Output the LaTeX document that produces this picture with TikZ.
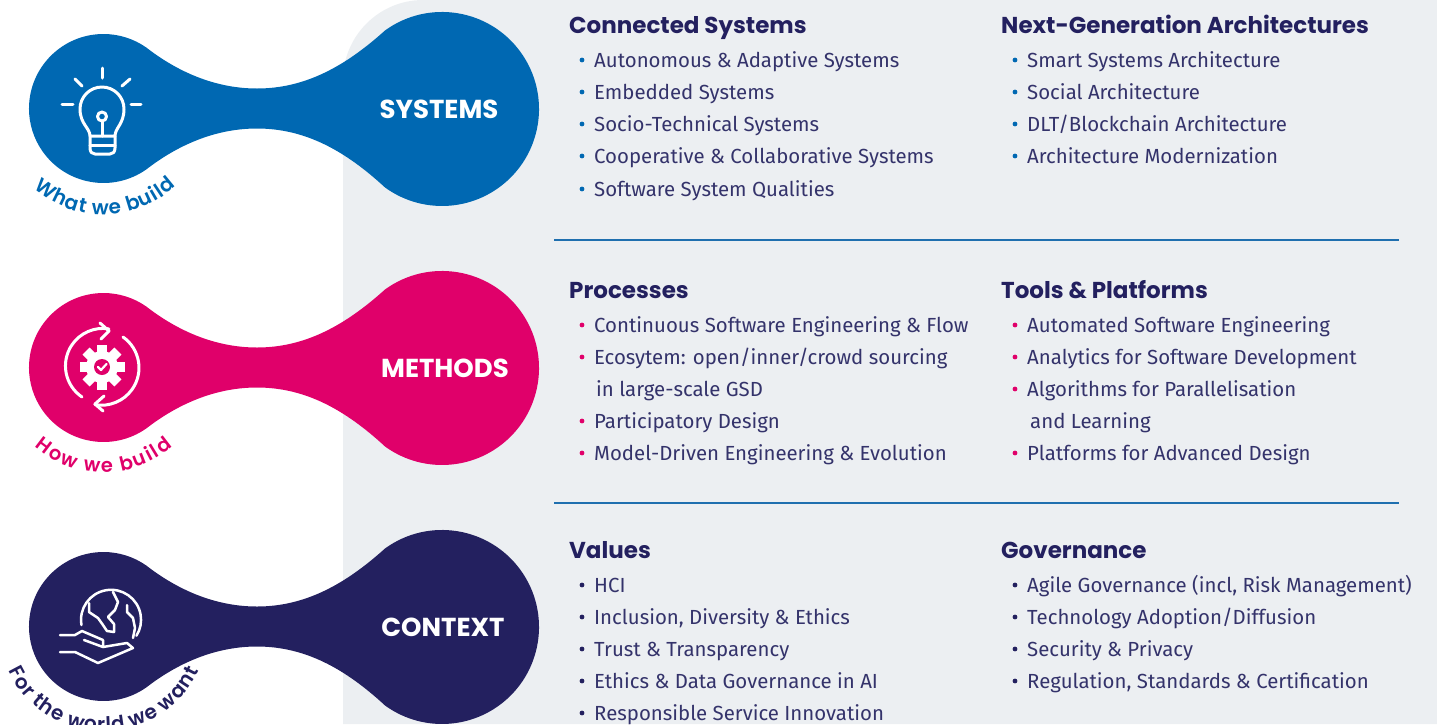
\documentclass[tikz,border=0pt]{standalone}
\usepackage{fontspec}
\usetikzlibrary{decorations.text}
\setmainfont{Fira Sans}
\newfontfamily\hdfont{Poppins}
\newfontfamily\curvefont{Poppins SemiBold}
\definecolor{navy}{HTML}{23205F}
\definecolor{txt}{HTML}{34336B}
\definecolor{sysblue}{HTML}{0068B2}
\definecolor{magent}{HTML}{E0006A}
\definecolor{greybg}{HTML}{ECEFF2}
\definecolor{rulec}{HTML}{1F6FAF}
\tikzset{
 x=1pt,y=-1pt,
 head/.style={anchor=base west,inner sep=0pt,font=\hdfont\bfseries\fontsize{23}{23}\selectfont,text=navy},
 item/.style={anchor=base west,inner sep=0pt,font=\fontsize{20.4}{20.4}\selectfont,text=txt},
 band/.style={anchor=center,inner sep=0pt,font=\hdfont\bfseries\fontsize{26}{26}\selectfont,text=white},
 icon/.style={draw=white,line width=3pt,line cap=round,line join=round},
 sep/.style={draw=rulec,line width=1.2pt},
}
\newcommand{\blobshape}[2]{%
 \fill[#2] (29,#1) arc[start angle=180,end angle=305,radius=74.5]
  .. controls (172,{#1-41}) and (210,{#1-20}) .. (257,{#1-20})
  .. controls (305,{#1-20}) and (345,{#1-42}) .. (385,{#1-78})
  arc[start angle=234,end angle=486,radius=97]
  .. controls (345,{#1+42}) and (305,{#1+20}) .. (257,{#1+20})
  .. controls (210,{#1+20}) and (172,{#1+41}) .. (146.2,{#1+61})
  arc[start angle=55,end angle=180,radius=74.5] -- cycle;
}
\begin{document}
\begin{tikzpicture}
\useasboundingbox (0,0) rectangle (1437,724);
\fill[greybg] (343,724) -- (343,80) .. controls (343,36) and (379,0) .. (423,0) -- (1437,0) -- (1437,724) -- cycle;
\blobshape{108.5}{sysblue}
\blobshape{367.5}{magent}
\blobshape{626.5}{navy}
\node[band] (sys) at (439,109) {SYSTEMS};
\node[band] (met) at (445,368) {METHODS};
\node[band] (con) at (443,627) {CONTEXT};
\draw[sep] (554,240) -- (1399,240);
\draw[sep] (554,503) -- (1399,503);
\foreach \x/\y/\t [count=\i] in {
 569/33/Connected Systems, 1001/33/Next-Generation Architectures,
 569/298/Processes, 1001/298/Tools \& Platforms,
 569/558/Values, 1001/558/Governance}
 {\node[head] (h\i) at (\x,\y) {\t};}
\foreach \col/\x/\y/\t [count=\i] in {
 sysblue/594/67/Autonomous \& Adaptive Systems,
 sysblue/594/99/Embedded Systems,
 sysblue/594/131/Socio-Technical Systems,
 sysblue/594/163/Cooperative \& Collaborative Systems,
 sysblue/594/196/Software System Qualities,
 sysblue/1027/67/Smart Systems Architecture,
 sysblue/1027/99/Social Architecture,
 sysblue/1027/131/{DLT/Blockchain Architecture},
 sysblue/1027/163/Architecture Modernization,
 magent/594/332/Continuous Software Engineering \& Flow,
 magent/594/364/{Ecosytem: open/inner/crowd sourcing},
 magent/594/428/Participatory Design,
 magent/594/460/Model-Driven Engineering \& Evolution,
 magent/1027/332/Automated Software Engineering,
 magent/1027/364/Analytics for Software Development,
 magent/1027/396/Algorithms for Parallelisation,
 magent/1027/460/Platforms for Advanced Design,
 navy/594/592/HCI,
 navy/594/624/{Inclusion, Diversity \& Ethics},
 navy/594/656/Trust \& Transparency,
 navy/594/688/Ethics \& Data Governance in AI,
 navy/594/720/Responsible Service Innovation,
 navy/1027/592/{Agile Governance (incl, Risk Management)},
 navy/1027/624/{Technology Adoption/Diffusion},
 navy/1027/656/Security \& Privacy,
 navy/1027/688/{Regulation, Standards \& Certification}}
 {\node[item] (it\i) at (\x,\y) {\t};
  \fill[\col] ({\x-12},{\y-7}) circle[radius=2.4];}
\node[item] (c1) at (596,396) {in large-scale GSD};
\node[item] (c2) at (1030,428) {and Learning};
% bulb
\begin{scope}[icon]
 \draw (102,68)--(102,78); \draw (75,79)--(82,86); \draw (130,79)--(122,86);
 \draw (62,104)--(73,104); \draw (131,104)--(141,104);
 \draw (90,136) .. controls (90,128) and (80,124) .. (80,109) arc[start angle=180,end angle=360,radius=22] .. controls (124,124) and (115,128) .. (115,136) -- cycle;
 \draw (90,136) -- (90,148) .. controls (90,152) and (92,154) .. (95,154) -- (110,154) .. controls (113,154) and (115,152) .. (115,148) -- (115,136);
 \draw (90,145) -- (115,145);
 \draw (102,136) -- (102,121);
 \draw (102,116.5) circle[radius=4.5];
\end{scope}
% gear
\foreach \a in {0,45,...,315} \fill[white,rotate around={\a:(102,367)}] (97,344.5) rectangle (107,356);
\fill[white] (102,367) circle[radius=16];
\fill[magent] (102,367) circle[radius=8];
\draw[white,line width=2.2pt,line cap=round,line join=round] (98,367) -- (101,370) -- (106.5,364);
\begin{scope}[icon]
 \draw (82,397) arc[start angle=124,end angle=279,radius=37.5];
 \draw (100,323) -- (109,331) -- (101,339);
 \draw (123,337) arc[start angle=305,end angle=460,radius=37.5];
 \draw (104,396) -- (95,404) -- (103,411);
\end{scope}
% globe
\begin{scope}[icon,line width=2.5pt]
 \draw (81.5,625) arc[start angle=170,end angle=392,radius=30];
 \draw (89,603) -- (89,612) -- (98,618) -- (103,625) -- (107,631) -- (114,632) -- (114,624) -- (108,617) -- (115,610) -- (118,602) -- (113,592);
 \draw (127,605) -- (127,612) -- (133,618) -- (135,628) -- (133,638);
 \draw (60,635) -- (75,635) -- (82,631) -- (103,640) -- (103,647) -- (84,640);
 \draw (103,647) -- (127,643) -- (133,648) -- (98,663) -- (75,652) -- (60,652);
\end{scope}
% text
\path[postaction={decorate,decoration={text along path,text align={fit to path},
 text={|\curvefont\fontsize{20}{20}\selectfont\color{sysblue}|What we build}}}]
 (103.5,108.5) ++(131:106) arc[start angle=131,end angle=47,radius=106];
\path[postaction={decorate,decoration={text along path,text align={fit to path},
 text={|\curvefont\fontsize{19.5}{19.5}\selectfont\color{magent}|How we build}}}]
 (103.5,367.5) ++(131:105) arc[start angle=131,end angle=49,radius=105];
\path[postaction={decorate,decoration={text along path,text align={fit to path},
 text={|\curvefont\fontsize{20}{20}\selectfont\color{navy}|For the world we want}}}]
 (103.5,626.5) ++(155:105) arc[start angle=155,end angle=25,radius=105];
\end{tikzpicture}
\end{document}
